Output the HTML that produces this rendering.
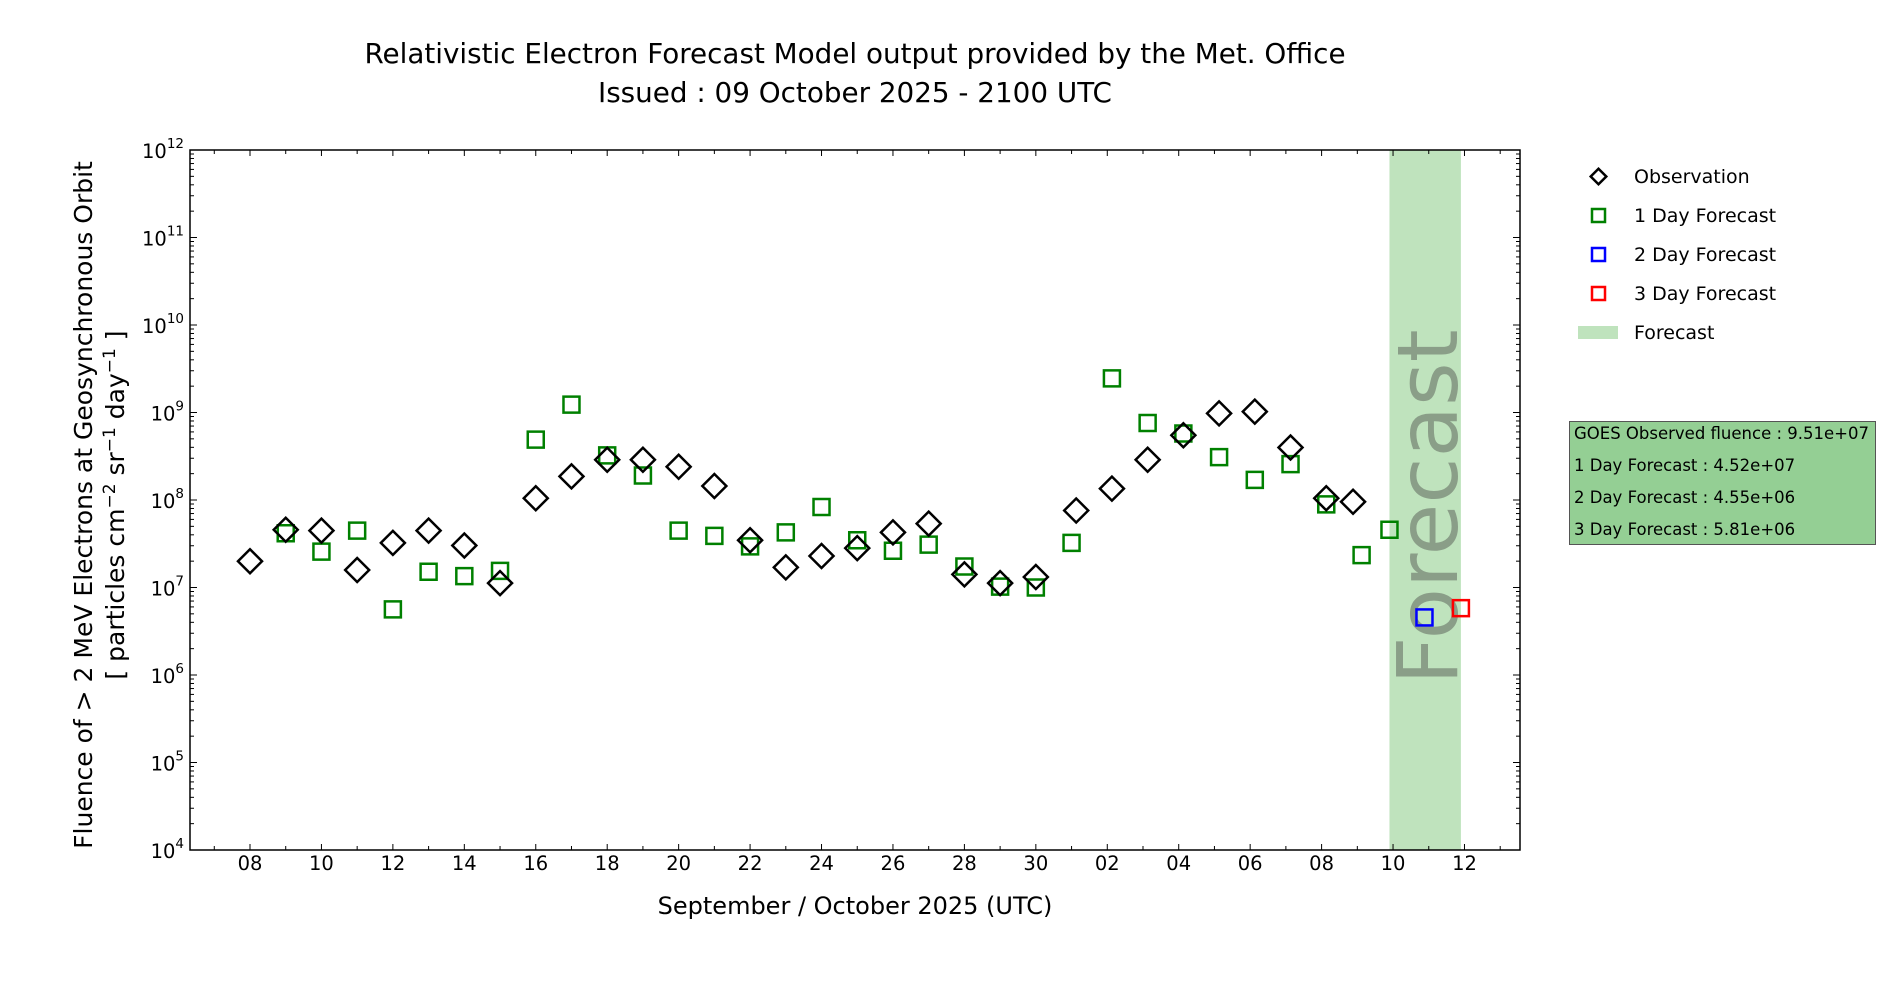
<!DOCTYPE html>
<html><head><meta charset="utf-8"><style>
body{margin:0;background:#fff;}
svg{display:block;font-family:"DejaVu Sans","Liberation Sans",sans-serif;}
</style></head><body>
<svg id="chart" width="1900" height="1000" viewBox="0 0 1900 1000">
<text x="855" y="63" text-anchor="middle" font-size="27.8">Relativistic Electron Forecast Model output provided by the Met. Office</text>
<text x="855" y="102" text-anchor="middle" font-size="27.8">Issued : 09 October 2025 - 2100 UTC</text>
<g id="plot"></g>
<text x="855" y="914" text-anchor="middle" font-size="24">September / October 2025 (UTC)</text>
<text transform="translate(92,505) rotate(-90)" text-anchor="middle" font-size="25">Fluence of &gt; 2 MeV Electrons at Geosynchronous Orbit</text>
<text transform="translate(124,505) rotate(-90)" text-anchor="middle" font-size="25">[ particles cm<tspan dy="-9" font-size="17">−2</tspan><tspan dy="9"> sr</tspan><tspan dy="-9" font-size="17">−1</tspan><tspan dy="9"> day</tspan><tspan dy="-9" font-size="17">−1</tspan><tspan dy="9"> ]</tspan></text>
<g>
<rect x="1593" y="171" width="11" height="11" transform="rotate(45 1598.5 176.5)" fill="none" stroke="#000" stroke-width="2.5"/>
<text x="1634" y="183" font-size="19">Observation</text>
<rect x="1592" y="209" width="13" height="13" fill="none" stroke="green" stroke-width="2.5"/>
<text x="1634" y="222" font-size="19">1 Day Forecast</text>
<rect x="1592" y="248" width="13" height="13" fill="none" stroke="blue" stroke-width="2.5"/>
<text x="1634" y="261" font-size="19">2 Day Forecast</text>
<rect x="1592" y="287" width="13" height="13" fill="none" stroke="red" stroke-width="2.5"/>
<text x="1634" y="300" font-size="19">3 Day Forecast</text>
<rect x="1578" y="326" width="40" height="13" fill="#bfe3bd"/>
<text x="1634" y="339" font-size="19">Forecast</text>
</g>
<g>
<rect x="1569.5" y="421.5" width="306" height="123" fill="#94cf94" stroke="#555" stroke-width="1"/>
<text x="1574" y="439" font-size="16.5">GOES Observed fluence : 9.51e+07</text>
<text x="1574" y="471" font-size="16.5">1 Day Forecast : 4.52e+07</text>
<text x="1574" y="503" font-size="16.5">2 Day Forecast : 4.55e+06</text>
<text x="1574" y="535" font-size="16.5">3 Day Forecast : 5.81e+06</text>
</g>
</svg>
<script>
// day index: 0 = 08 Sep, 23 = 01 Oct
const obsDays=[0,1,2,3,4,5,6,7,8,9,10,11,12,13,14,15,16,17,18,19,20,21,22,23.13,24.13,25.13,26.13,27.13,28.13,29.13,30.13,30.88];
const obsLog=[7.30,7.66,7.65,7.20,7.51,7.65,7.48,7.05,8.02,8.27,8.46,8.46,8.38,8.16,7.54,7.23,7.36,7.45,7.63,7.73,7.15,7.05,7.12,7.88,8.13,8.46,8.74,8.99,9.01,8.60,8.02,7.98];
const f1Days=[1,2,3,4,5,6,7,8,9,10,11,12,13,14,15,16,17,18,19,20,21,22,23,24.13,25.13,26.13,27.13,28.13,29.13,30.13,31.12,31.9];
const f1Log=[7.62,7.41,7.65,6.75,7.18,7.13,7.19,8.69,9.09,8.51,8.28,7.65,7.59,7.47,7.63,7.92,7.54,7.42,7.49,7.24,7.01,7.00,7.51,9.39,8.88,8.76,8.49,8.23,8.41,7.95,7.37,7.66];
const f2Days=[32.88];
const f2Log=[6.658];
const f3Days=[33.9];
const f3Log=[6.764];
const bandDays=[31.9,33.9];
const xTickDays=[0,2,4,6,8,10,12,14,16,18,20,22,24,26,28,30,32,34];
const xTickLabels=["08","10","12","14","16","18","20","22","24","26","28","30","02","04","06","08","10","12"];
const yTicks=[4,5,6,7,8,9,10,11,12];

const L=190,R=1520,T=150,B=850;
const X=d=>250+d*35.72;
const Y=v=>B-(v-4)*(B-T)/8;
const NS="http://www.w3.org/2000/svg";
const g=document.getElementById('plot');
function mk(tag,attrs,parent){const e=document.createElementNS(NS,tag);for(const k in attrs)e.setAttribute(k,attrs[k]);(parent||g).appendChild(e);return e;}

const band=mk('rect',{x:X(bandDays[0]),y:T,width:X(bandDays[1])-X(bandDays[0]),height:B-T,fill:'#bfe3bd'});


const ft=mk('text',{transform:`translate(${(X(bandDays[0])+X(bandDays[1]))/2+32},507) rotate(-90)`,'text-anchor':'middle','font-size':'84',fill:'#8a9e88'});
ft.textContent='Forecast';



for(let d=-1;d<=35;d++){const x=X(d);if(x<L||x>R)continue;const maj=xTickDays.includes(d);const len=maj?6:4;
mk('line',{x1:x,x2:x,y1:B,y2:B-len,stroke:'#000','stroke-width':1});mk('line',{x1:x,x2:x,y1:T,y2:T+len,stroke:'#000','stroke-width':1});}
xTickDays.forEach((d,i)=>{const t=mk('text',{x:X(d),y:B+20,'text-anchor':'middle','font-size':'19.5'});t.textContent=xTickLabels[i];

});
yTicks.forEach(v=>{const y=Y(v);mk('line',{x1:L,x2:L+7,y1:y,y2:y,stroke:'#000'});mk('line',{x1:R,x2:R-7,y1:y,y2:y,stroke:'#000'});
if(v<12)for(let k=2;k<10;k++){const yy=Y(v+Math.log10(k));mk('line',{x1:L,x2:L+4,y1:yy,y2:yy,stroke:'#000'});mk('line',{x1:R,x2:R-4,y1:yy,y2:yy,stroke:'#000'});}
const t=mk('text',{x:L-6,y:y+8,'text-anchor':'end','font-size':'19.5'});
t.innerHTML='10<tspan dy="-10" font-size="13.5">'+v+'</tspan>';

});
const frame=mk('rect',{x:L,y:T,width:R-L,height:B-T,fill:'none',stroke:'#000','stroke-width':1.5});



function squares(days,vals,color,name){days.forEach((d,i)=>{const s=mk('rect',{x:X(d)-8,y:Y(vals[i])-8,width:16,height:16,fill:'none',stroke:color,'stroke-width':2.5});

});}
squares(f1Days,f1Log,'green','forecast-1day-point');
obsDays.forEach((d,i)=>{const x=X(d),y=Y(obsLog[i]);const p=mk('path',{d:`M${x} ${y-12}L${x+12} ${y}L${x} ${y+12}L${x-12} ${y}Z`,fill:'none',stroke:'#000','stroke-width':2.5});

});
squares(f2Days,f2Log,'blue','forecast-2day-point');
squares(f3Days,f3Log,'red','forecast-3day-point');
</script>
</body></html>
